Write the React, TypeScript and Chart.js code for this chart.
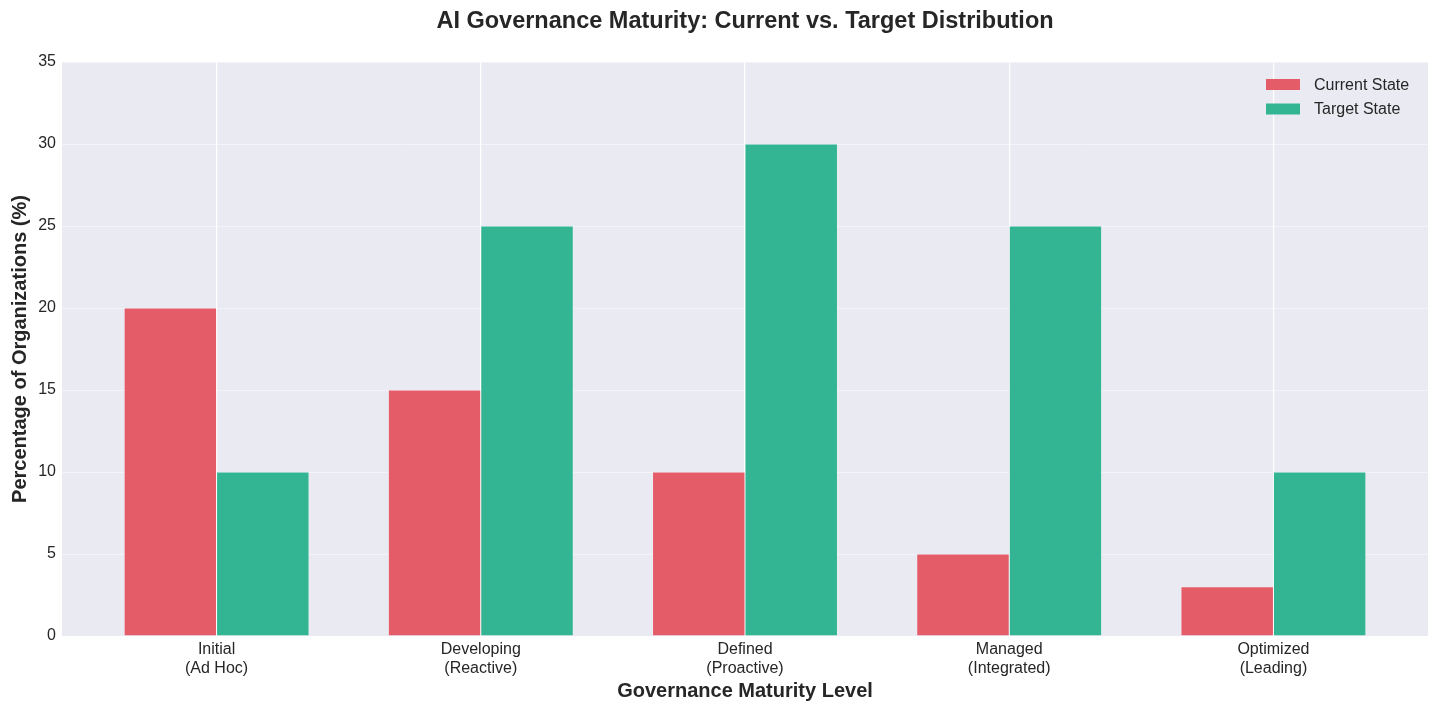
import { useEffect, useRef } from 'react';
import Chart from 'chart.js/auto';

const levels = ['Initial', 'Developing', 'Defined', 'Managed', 'Optimized'];
const levelNotes = ['(Ad Hoc)', '(Reactive)', '(Proactive)', '(Integrated)', '(Leading)'];
const currentState = [20, 15, 10, 5, 3];
const targetState = [10, 25, 30, 25, 10];
const yTicks = [0, 5, 10, 15, 20, 25, 30, 35];

const TITLE = 'AI Governance Maturity: Current vs. Target Distribution';
const FONT = '"Liberation Sans", Arial, sans-serif';
const TEXT = '#262626';
const RED = '#E55C69';
const GREEN = '#33B594';

const plotBackground = {
    id: 'plotBackground',
    beforeDraw(chart: Chart) {
        const { ctx, chartArea } = chart;
        ctx.save();
        ctx.fillStyle = '#EAEAF2';
        ctx.fillRect(chartArea.left, chartArea.top, chartArea.right - chartArea.left, chartArea.bottom - chartArea.top);
        ctx.restore();
    },
};

// title centred over the plot area, and a legend in its upper right corner
const decorations = {
    id: 'decorations',
    afterDraw(chart: Chart) {
        const { ctx, chartArea } = chart;
        ctx.save();
        ctx.fillStyle = TEXT;
        ctx.font = `bold 23.5px ${FONT}`;
        ctx.textAlign = 'center';
        ctx.textBaseline = 'middle';
        ctx.fillText(TITLE, (chartArea.left + chartArea.right) / 2, 22);

        ctx.font = `16px ${FONT}`;
        ctx.textAlign = 'left';
        chart.data.datasets.forEach((ds, i) => {
            const y = chartArea.top + 22.5 + i * 24.5;
            const x = chartArea.right - 162;
            ctx.fillStyle = ds.backgroundColor as string;
            ctx.fillRect(x, y - 5.5, 34, 11);
            ctx.fillStyle = TEXT;
            ctx.fillText(ds.label as string, x + 48, y + 1);
        });
        ctx.restore();
    },
};

export default function App() {
    const canvasRef = useRef<HTMLCanvasElement | null>(null);

    useEffect(() => {
        if (!canvasRef.current) {
            return;
        }

        const chart = new Chart(canvasRef.current, {
            type: 'bar',
            data: {
                datasets: [
                    {
                        label: 'Current State',
                        data: currentState.map((y, i) => ({ x: i, y })),
                        backgroundColor: RED,
                        borderColor: 'rgba(255,255,255,0.6)',
                        borderWidth: 0.5,
                        categoryPercentage: 0.7,
                        barPercentage: 1,
                    },
                    {
                        label: 'Target State',
                        data: targetState.map((y, i) => ({ x: i, y })),
                        backgroundColor: GREEN,
                        borderColor: 'rgba(255,255,255,0.6)',
                        borderWidth: 0.5,
                        categoryPercentage: 0.7,
                        barPercentage: 1,
                    },
                ],
            },
            options: {
                animation: false,
                responsive: true,
                maintainAspectRatio: false,
                layout: { padding: { left: 0, right: 12, top: 62, bottom: 0 } },
                plugins: {
                    title: { display: false },
                    legend: { display: false },
                    tooltip: { enabled: false },
                },
                scales: {
                    x: {
                        type: 'linear',
                        min: -0.585,
                        max: 4.585,
                        offset: false,
                        afterBuildTicks(scale) {
                            scale.ticks = levels.map((_, i) => ({ value: i }));
                        },
                        afterFit(scale) {
                            scale.height = 78;
                        },
                        border: { display: false },
                        grid: { color: '#FFFFFF', lineWidth: 1.2, drawTicks: false, offset: false },
                        ticks: {
                            color: TEXT,
                            font: { family: FONT, size: 16 },
                            padding: 4,
                            maxRotation: 0,
                            autoSkip: false,
                            callback: (v) => {
                                const i = Number(v);
                                return [levels[i], levelNotes[i]];
                            },
                        },
                        title: {
                            display: true,
                            text: 'Governance Maturity Level',
                            color: TEXT,
                            font: { family: FONT, size: 20, weight: 'bold' },
                            padding: { top: 0, bottom: 11 },
                        },
                    },
                    y: {
                        min: 0,
                        max: 35,
                        afterBuildTicks(scale) {
                            scale.ticks = yTicks.map((value) => ({ value }));
                        },
                        afterFit(scale) {
                            scale.width = 62;
                        },
                        border: { display: false },
                        grid: { color: 'rgba(255,255,255,0.45)', lineWidth: 1, drawTicks: false },
                        ticks: {
                            color: TEXT,
                            font: { family: FONT, size: 16 },
                            padding: 6,
                        },
                        title: {
                            display: true,
                            text: 'Percentage of Organizations (%)',
                            color: TEXT,
                            font: { family: FONT, size: 20, weight: 'bold' },
                            padding: { top: 8, bottom: 0 },
                        },
                    },
                },
            },
            plugins: [plotBackground, decorations],
        });
        return () => chart.destroy();
    }, []);

    return (
        <div style={{ position: 'fixed', left: 0, top: 0, width: '1440px', height: '714px', background: '#fff' }}>
            <canvas ref={canvasRef} />
        </div>
    );
}
